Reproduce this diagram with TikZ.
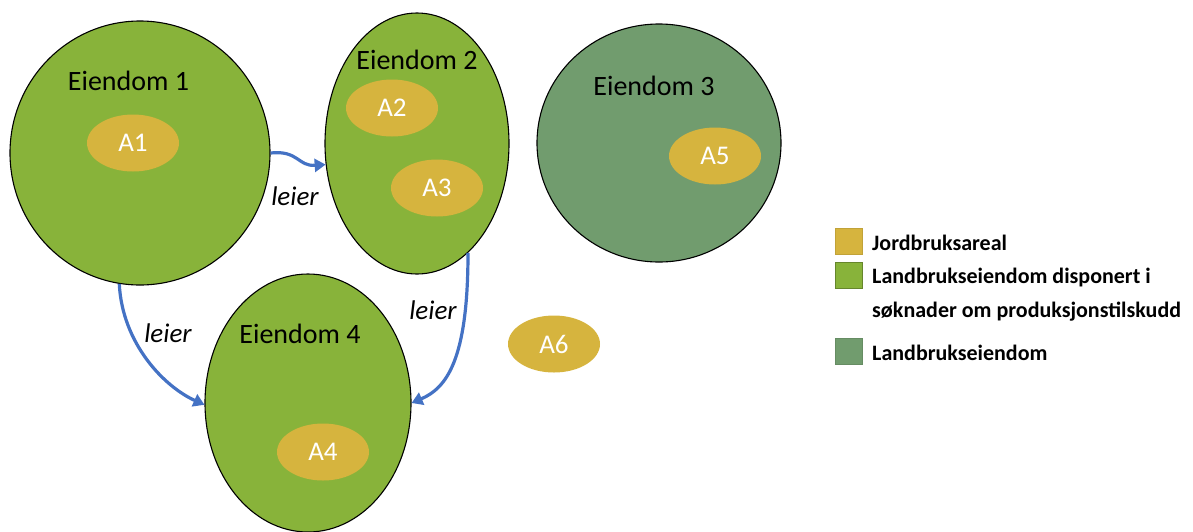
\documentclass[tikz,border=0pt]{standalone}
\usepackage{fontspec}
\setmainfont{Carlito}
\usetikzlibrary{shapes.geometric,arrows.meta}
\definecolor{lgreen}{RGB}{136,179,58}
\definecolor{dgreen}{RGB}{113,156,110}
\definecolor{gold}{RGB}{214,180,62}
\definecolor{arrowblue}{RGB}{68,114,196}
\begin{document}
\begin{tikzpicture}[x=1pt,y=-1pt,
  prop/.style={ellipse, draw=black, line width=1.1pt, inner sep=0pt},
  area/.style={ellipse, fill=gold, inner sep=0pt, minimum width=92pt, minimum height=57pt,
               text=white, font=\fontsize{27}{30}\selectfont},
  title/.style={font=\fontsize{28}{32}\selectfont, inner sep=0pt},
  leie/.style={draw=arrowblue, line width=3.2pt, -{Triangle[length=11pt,width=13pt]}},
  leietext/.style={font=\fontsize{27}{30}\selectfont\itshape, inner sep=0pt},
  legbox/.style={minimum width=27pt, minimum height=26pt, inner sep=0pt, line width=0.8pt},
  legtext/.style={font=\fontsize{22}{26}\selectfont\bfseries, anchor=base west, inner sep=0pt}]
\useasboundingbox (0,0) rectangle (1193,531);

% properties
\node[prop, fill=lgreen, minimum width=260pt, minimum height=264pt] (e1) at (140,153) {};
\node[prop, fill=lgreen, minimum width=184pt, minimum height=261pt] (e2) at (417,143.5) {};
\node[prop, fill=dgreen, minimum width=244pt, minimum height=238pt] (e3) at (659,143) {};
\node[prop, fill=lgreen, minimum width=206pt, minimum height=258pt] (e4) at (308,403) {};

\node[title] (t1) at (128.5,81) {Eiendom 1};
\node[title] (t2) at (417,60) {Eiendom 2};
\node[title] (t3) at (654,86) {Eiendom 3};
\node[title] (t4) at (300,334) {Eiendom 4};

% areas
\node[area] (a1) at (133,143) {A1};
\node[area] (a2) at (392,108) {A2};
\node[area] (a3) at (437,188) {A3};
\node[area] (a4) at (323,452) {A4};
\node[area] (a5) at (715,156) {A5};
\node[area] (a6) at (554,344) {A6};

% rentals
\draw[leie] (e1.east) .. controls +(28,-3) and +(-28,2) .. (e2.193);
\draw[leie] (e1.261) .. controls +(3,60) and +(-40,-18) .. (e4.181);
\draw[leie] (e2.295) .. controls +(0,107) and +(35,-15) .. (e4.east);

\node[leietext] (l1) at (295,196) {leier};
\node[leietext] (l2) at (168,333) {leier};
\node[leietext] (l3) at (433,310) {leier};

% legend
\node[legbox, fill=gold, draw=gold!90!black] (k1) at (848.5,241) {};
\node[legbox, fill=lgreen, draw=lgreen!75!black] (k2) at (848.5,275) {};
\node[legbox, fill=dgreen, draw=dgreen!90!black] (k3) at (848.5,351.5) {};
\node[legtext] (g1) at (872,250) {Jordbruksareal};
\node[legtext] (g2) at (872,283) {Landbrukseiendom disponert i};
\node[legtext] (g2b) at (872,317) {søknader om produksjonstilskudd};
\node[legtext] (g3) at (872,360) {Landbrukseiendom};
\end{tikzpicture}
\end{document}
